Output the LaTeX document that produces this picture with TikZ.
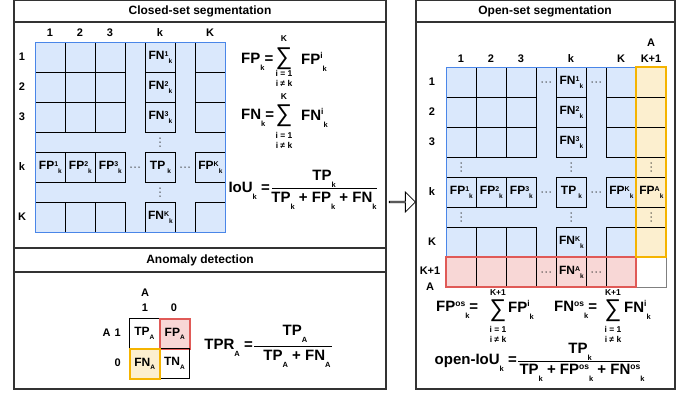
\documentclass[tikz,border=0pt]{standalone}
\usepackage{fontspec}
\setmainfont{Liberation Sans}
\usetikzlibrary{shapes.arrows}
\definecolor{bfill}{HTML}{DAE8FC}
\definecolor{bline}{HTML}{4A86E8}
\definecolor{rfill}{HTML}{F8D7D6}
\definecolor{rline}{HTML}{E05A57}
\definecolor{yfill}{HTML}{FCEFCF}
\definecolor{yline}{HTML}{F5B400}
\definecolor{frame}{HTML}{333333}
\newcommand\supx[1]{\raisebox{0.3em}{\fontsize{7}{7}\selectfont #1}}
\newcommand\subx[1]{\raisebox{-0.3em}{\fontsize{6.5}{6.5}\selectfont #1}}
\newcommand\fsupx[1]{\raisebox{0.38em}{\fontsize{8.5}{8.5}\selectfont #1}}
\newcommand\fsubx[1]{\raisebox{-0.45em}{\fontsize{7.5}{7.5}\selectfont #1}}
\newcommand\bigsum{\scalebox{1.3}[1.35]{∑}}
\tikzset{
  cell/.style={draw=black, line width=0.8pt, minimum size=30pt, inner sep=0pt, anchor=north west},
  ctxt/.style={font=\fontsize{12}{12}\selectfont\bfseries, inner sep=0pt},
  lab/.style={font=\fontsize{11}{11}\selectfont\bfseries, inner sep=0pt},
  ttl/.style={font=\fontsize{12}{12}\selectfont\bfseries, inner sep=0pt},
  fml/.style={font=\fontsize{15}{15}\selectfont\bfseries, inner sep=0pt},
  lim/.style={font=\fontsize{8.5}{8.5}\selectfont\bfseries, inner sep=0pt},
  sumsym/.style={font=\fontsize{18}{18}\selectfont, inner sep=0pt},
  dot/.style={circle, fill=black!80, inner sep=0pt, minimum size=1.5pt},
  panel/.style={draw=frame, line width=1.1pt},
  hdots/.pic={\node[dot] at (-4,0) {}; \node[dot] at (0,0) {}; \node[dot] at (4,0) {};},
  vdots/.pic={\node[dot] at (0,-4) {}; \node[dot] at (0,0) {}; \node[dot] at (0,4) {};},
}
\begin{document}
\begin{tikzpicture}[x=1pt,y=-1pt]
\useasboundingbox (0,0) rectangle (684,394);
% panels
\draw[panel] (14,0.6) rectangle (386,248);
\draw[panel] (14,22) -- (386,22);
\draw[panel] (14,248) rectangle (386,389);
\draw[panel] (14,272) -- (386,272);
\draw[panel] (416,0.6) rectangle (675,389);
\draw[panel] (416,22) -- (675,22);
\node[ttl] (t1) at (200,11) {Closed-set segmentation};
\node[ttl] (t2) at (200,260) {Anomaly detection};
\node[ttl] (t3) at (545,11.5) {Open-set segmentation};
\node[single arrow, draw=black, fill=white, line width=0.8pt, minimum width=20pt, single arrow head extend=5pt, minimum height=26pt, inner sep=0pt] (arr) at (402,202) {};

% ---------------- closed-set matrix
\fill[bfill] (35,42) rectangle (225,232);
\foreach \x [count=\i] in {35,65,95,145,195}
  \foreach \y [count=\j] in {42,72,102,152,202}
    \node[cell] (cs-\j-\i) at (\x,\y) {};
\draw[bline, line width=1pt] (35,42) rectangle (225,232);
\node[ctxt] (ca) at (cs-1-4) {FN\supx{1}\subx{k}};
\node[ctxt] (cb) at (cs-2-4) {FN\supx{2}\subx{k}};
\node[ctxt] (cc) at (cs-3-4) {FN\supx{3}\subx{k}};
\node[ctxt] (cd) at (cs-5-4) {FN\supx{K}\subx{k}};
\node[ctxt] (ce) at (cs-4-1) {FP\supx{1}\subx{k}};
\node[ctxt] (cf) at (cs-4-2) {FP\supx{2}\subx{k}};
\node[ctxt] (cg) at (cs-4-3) {FP\supx{3}\subx{k}};
\node[ctxt] (ch) at (cs-4-4) {TP\hspace{2pt}\subx{k}};
\node[ctxt] (ci) at (cs-4-5) {FP\supx{K}\subx{k}};
\pic at (160,142) {vdots};
\pic at (160,192) {vdots};
\pic at (135,167) {hdots};
\pic at (185,167) {hdots};
\foreach \x/\t [count=\i] in {50/1,80/2,110/3,160/k,210/K}
  \node[lab] (ccl\i) at (\x,33) {\t};
\foreach \y/\t [count=\i] in {57/1,87/2,117/3,167/k,217/K}
  \node[lab] (crl\i) at (22,\y) {\t};

% closed formulas
\node[fml, anchor=west] (fpk) at (241,62) {FP\fsubx{k}=};
\node[sumsym] (s1) at (284,59) {\bigsum};
\node[lim] (s1t) at (284,39) {K};
\node[lim] (s1b) at (284,73) {i = 1};
\node[lim] (s1c) at (284,83) {i ≠ k};
\node[fml, anchor=west] (fpi) at (301,62) {FP\fsupx{i}\fsubx{k}};
\node[fml, anchor=west] (fnk) at (241,118) {FN\fsubx{k}=};
\node[sumsym] (s2) at (284,116) {\bigsum};
\node[lim] (s2t) at (284,97) {K};
\node[lim] (s2b) at (284,135) {i = 1};
\node[lim] (s2c) at (284,145) {i ≠ k};
\node[fml, anchor=west] (fni) at (301,118) {FN\fsupx{i}\fsubx{k}};
\node[fml, anchor=east] (iou) at (270,191) {IoU\fsubx{k} =};
\node[fml] (ioun) at (324,179) {TP\fsubx{k}};
\node[fml] (ioud) at (324,201) {TP\fsubx{k} + FP\fsubx{k} + FN\fsubx{k}};
\coordinate (il1) at (272,188);
\coordinate (il2) at (377,188);
\draw[line width=0.8pt] (il1) -- (il2);

% ---------------- anomaly
\node[cell] (a11) at (129,318) {};
\node[cell, fill=rfill, draw=rline, line width=1.5pt] (a12) at (159,318) {};
\node[cell] (a22) at (159,348) {};
\node[cell, fill=yfill, draw=yline, line width=1.5pt] (a21) at (129,348) {};
\node[ctxt] (at1) at (a11) {TP\subx{A}};
\node[ctxt] (at2) at (a12) {FP\subx{A}};
\node[ctxt] (at3) at (a21) {FN\subx{A}};
\node[ctxt] (at4) at (a22) {TN\subx{A}};
\node[lab] (aA) at (145,293) {A};
\node[lab] (a1) at (145,308) {1};
\node[lab] (a0) at (174,308) {0};
\node[lab, anchor=east] (aA1) at (121,333) {A\hspace{4pt}1};
\node[lab, anchor=east] (aB0) at (121,363) {0};
\node[fml, anchor=east] (tpr) at (253,348) {TPR\fsubx{A} =};
\node[fml] (tprn) at (295,334) {TP\fsubx{A}};
\node[fml] (tprd) at (297,359) {TP\fsubx{A} + FN\fsubx{A}};
\coordinate (tl1) at (254,346);
\coordinate (tl2) at (332,346);
\draw[line width=0.8pt] (tl1) -- (tl2);

% ---------------- open-set matrix
\fill[bfill] (446,67) rectangle (636,257);
\fill[yfill] (636,67) rectangle (666,257);
\fill[rfill] (446,257) rectangle (636,287);
\foreach \x [count=\i] in {446,476,506,556,606}
  \foreach \y [count=\j] in {67,97,127,177,227}
    \node[cell] (os-\j-\i) at (\x,\y) {};
\foreach \x [count=\i] in {446,476,506,556,606}
  \node[cell] (os-6-\i) at (\x,257) {};
\foreach \y [count=\j] in {67,97,127,177,227}
  \node[cell] (os-\j-6) at (636,\y) {};
\node[cell, draw=gray] (os-6-6) at (636,257) {};
\draw[bline, line width=1pt] (446,67) rectangle (636,257);
\draw[rline, line width=1.5pt] (446,257) rectangle (636,287);
\draw[yline, line width=1.6pt] (636,67) rectangle (666,257);
\node[ctxt] (oa) at (os-1-4) {FN\supx{1}\subx{k}};
\node[ctxt] (ob) at (os-2-4) {FN\supx{2}\subx{k}};
\node[ctxt] (oc) at (os-3-4) {FN\supx{3}\subx{k}};
\node[ctxt] (od) at (os-5-4) {FN\supx{K}\subx{k}};
\node[ctxt] (oe) at (os-4-1) {FP\supx{1}\subx{k}};
\node[ctxt] (of) at (os-4-2) {FP\supx{2}\subx{k}};
\node[ctxt] (og) at (os-4-3) {FP\supx{3}\subx{k}};
\node[ctxt] (oh) at (os-4-4) {TP\hspace{2pt}\subx{k}};
\node[ctxt] (oi) at (os-4-5) {FP\supx{K}\subx{k}};
\node[ctxt] (oj) at (os-4-6) {FP\supx{A}\subx{k}};
\node[ctxt] (ok) at (os-6-4) {FN\supx{A}\subx{k}};
\foreach \x in {546,596}
  \foreach \y in {82,192,272}
    \pic at (\x,\y) {hdots};
\foreach \x in {461,571,651}
  \foreach \y in {167,217}
    \pic at (\x,\y) {vdots};
\foreach \x/\t [count=\i] in {461/1,491/2,521/3,571/k,621/K,651/K+1}
  \node[lab] (ocl\i) at (\x,59) {\t};
\node[lab] (ocA) at (651,43) {A};
\foreach \y/\t [count=\i] in {82/1,112/2,142/3,192/k,242/K}
  \node[lab] (orl\i) at (432,\y) {\t};
\node[lab] (orl6) at (430,271) {K+1};
\node[lab] (orl7) at (430,287) {A};

% open formulas
\node[fml, anchor=west] (ofp) at (436,310) {FP\fsupx{os}\fsubx{k}=};
\node[sumsym] (s3) at (498,311) {\bigsum};
\node[lim] (s3t) at (498,293) {K+1};
\node[lim] (s3b) at (498,329) {i = 1};
\node[lim] (s3c) at (498,339) {i ≠ k};
\node[fml, anchor=west] (ofpi) at (508,310) {FP\fsupx{i}\fsubx{k}};
\node[fml, anchor=west] (ofn) at (554,310) {FN\fsupx{os}\fsubx{k}=};
\node[sumsym] (s4) at (613,311) {\bigsum};
\node[lim] (s4t) at (613,293) {K+1};
\node[lim] (s4b) at (613,329) {i = 1};
\node[lim] (s4c) at (613,339) {i ≠ k};
\node[fml, anchor=west] (ofni) at (624,310) {FN\fsupx{i}\fsubx{k}};
\node[fml, anchor=east] (oiou) at (517,363) {open-IoU\fsubx{k} =};
\node[fml] (oioun) at (580,352) {TP\fsubx{k}};
\node[fml] (oioud) at (582,373) {TP\fsubx{k} + FP\fsupx{os}\fsubx{k} + FN\fsupx{os}\fsubx{k}};
\coordinate (ol1) at (518,361);
\coordinate (ol2) at (640,361);
\draw[line width=0.8pt] (ol1) -- (ol2);
\end{tikzpicture}
\end{document}
